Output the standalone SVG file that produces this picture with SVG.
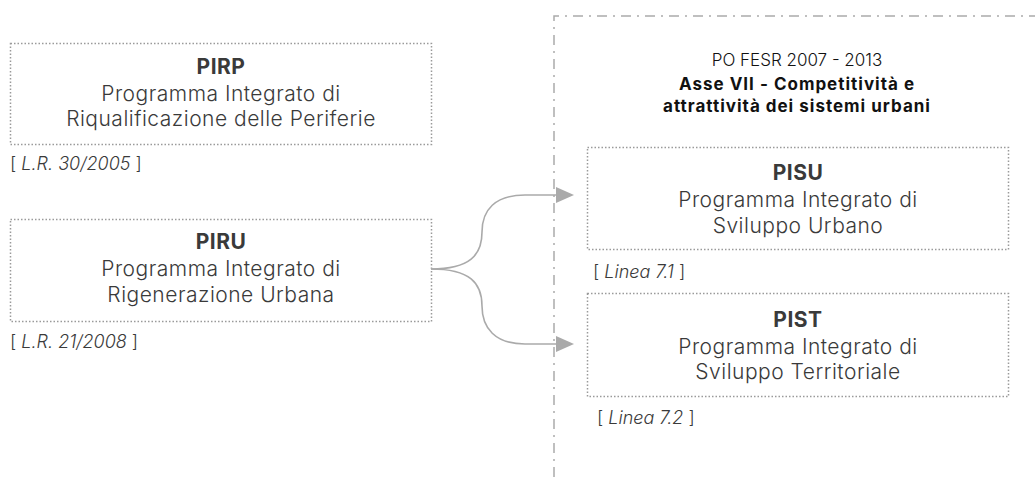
<svg xmlns="http://www.w3.org/2000/svg" width="1035" height="477" viewBox="0 0 1035 477">
<defs>
<style>
.box{fill:none;stroke:#9a9a9a;stroke-width:1.5;stroke-dasharray:1.5 2}
.t{font-family:Inter,"Noto Sans","Liberation Sans",sans-serif;fill:#3a3a3a;text-anchor:middle}
.b{font-size:21px;font-weight:700;letter-spacing:0.5px}
.l{font-size:21px;font-weight:300;letter-spacing:0.5px}
.lab{font-family:Inter,"Noto Sans","Liberation Sans",sans-serif;fill:#3a3a3a;font-size:18px;font-weight:300}
.it{font-style:italic}
.h{font-family:Inter,"Noto Sans","Liberation Sans",sans-serif;fill:#111;text-anchor:middle;font-size:17px}
.hb{font-weight:700;letter-spacing:1px}
.conn{fill:none;stroke:#aaa;stroke-width:1.6}
.frame{fill:none;stroke:#aaa;stroke-width:1.5;stroke-dasharray:10 6 2 6}
</style>
<marker id="arr" markerWidth="18" markerHeight="16" refX="0" refY="8" orient="auto" markerUnits="userSpaceOnUse">
<path d="M0,0 L18,8 L0,16 Z" fill="#aaa"/>
</marker>
</defs>
<rect width="1035" height="477" fill="#fff"/>
<g id="frame">
<path class="frame" d="M554,477 L554,16 L1035,16"/>
<text class="h" x="797" y="66" font-weight="300">PO FESR 2007 - 2013</text>
<text class="h hb" x="797" y="90">Asse VII - Competitività e</text>
<text class="h hb" x="797" y="112">attrattività dei sistemi urbani</text>
</g>
<g id="pirp">
<rect class="box" x="10.5" y="43.5" width="421" height="101"/>
<text class="t b" x="221" y="74">PIRP</text>
<text class="t l" x="221" y="101">Programma Integrato di</text>
<text class="t l" x="221" y="126">Riqualificazione delle Periferie</text>
<text class="lab" x="10" y="170">[ <tspan class="it">L.R. 30/2005</tspan> ]</text>
</g>
<g id="piru">
<rect class="box" x="10.5" y="219.5" width="421" height="102"/>
<text class="t b" x="221" y="249">PIRU</text>
<text class="t l" x="221" y="276">Programma Integrato di</text>
<text class="t l" x="221" y="302">Rigenerazione Urbana</text>
<text class="lab" x="10" y="348">[ <tspan class="it">L.R. 21/2008</tspan> ]</text>
</g>
<g id="pisu">
<rect class="box" x="587.5" y="147.5" width="421" height="102"/>
<text class="t b" x="798" y="180">PISU</text>
<text class="t l" x="798" y="207">Programma Integrato di</text>
<text class="t l" x="798" y="233">Sviluppo Urbano</text>
<text class="lab" x="593" y="278">[ <tspan class="it">Linea 7.1</tspan> ]</text>
</g>
<g id="pist">
<rect class="box" x="587.5" y="293.5" width="421" height="103"/>
<text class="t b" x="798" y="327">PIST</text>
<text class="t l" x="798" y="354">Programma Integrato di</text>
<text class="t l" x="798" y="379">Sviluppo Territoriale</text>
<text class="lab" x="597" y="424">[ <tspan class="it">Linea 7.2</tspan> ]</text>
</g>
<g id="connectors">
<path class="conn" marker-end="url(#arr)" d="M431,269 C470,269 482,255 482,232 C482,210 495,195 525,195 L556,195"/>
<path class="conn" marker-end="url(#arr)" d="M431,269 C470,269 482,283 482,306 C482,328 495,344 525,344 L556,344"/>
</g>
</svg>
